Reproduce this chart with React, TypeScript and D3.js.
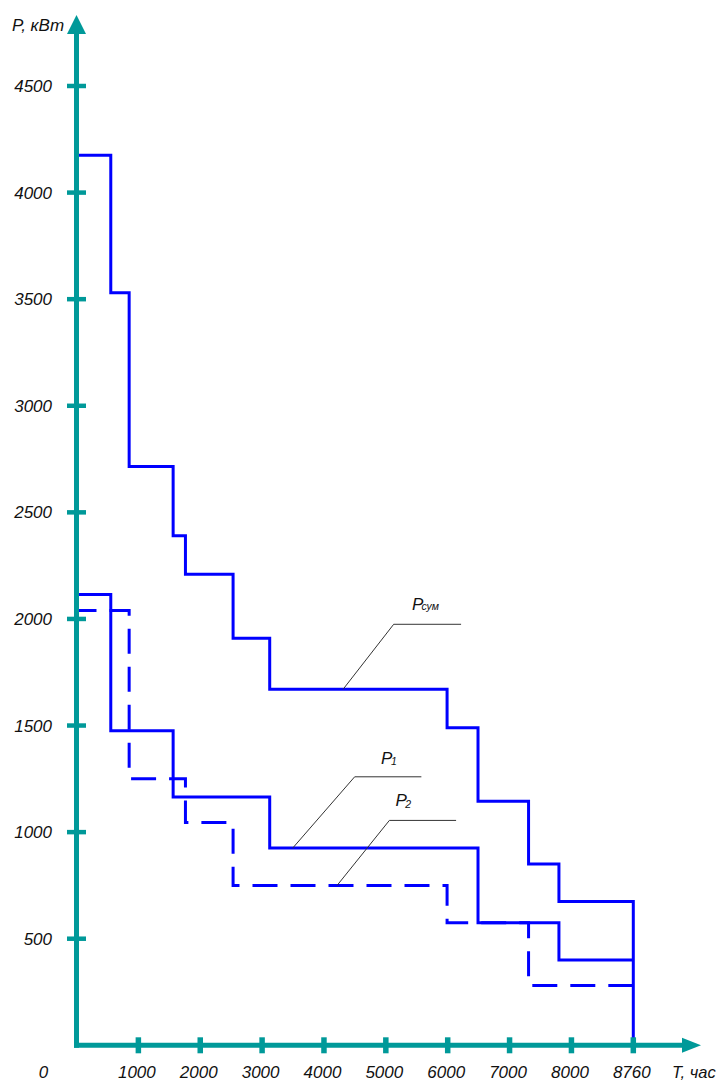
import * as d3 from 'd3';

// Load duration curves: step start hours and power (kW) for each step
const YEAR_HOURS = 8760;

const psumHours = [0, 554, 851, 1562, 1761, 2531, 3123, 5990, 6490, 7307, 7798];
const psumValues = [4175, 3530, 2715, 2390, 2210, 1910, 1670, 1490, 1145, 850, 675];

const p1Hours = [0, 554, 1562, 3123, 6490, 7798];
const p1Values = [2115, 1475, 1165, 925, 575, 400];

const p2Hours = [0, 851, 1761, 2531, 5990, 7307];
const p2Values = [2040, 1250, 1045, 750, 575, 280];

const yTicks = [500, 1000, 1500, 2000, 2500, 3000, 3500, 4000, 4500];
const xTicks = [1000, 2000, 3000, 4000, 5000, 6000, 7000, 8000, 8760];

const W = 720;
const H = 1082;
const AXIS = '#009999';
const LINE = '#0000ff';
const FONT = '"Liberation Sans", Arial, sans-serif';

// x axis: 8760 sits one tick step after 8000, like on the original drawing
const x0 = 76.5;
const step = (633.3 - x0) / 9;
const x = d3.scaleLinear()
  .domain([0, 8000, YEAR_HOURS])
  .range([x0, x0 + 8 * step, x0 + 9 * step]);

const y = d3.scaleLinear().domain([0, 4500]).range([1045.3, 86]);

const stepLine = d3.line<[number, number]>()
  .x(d => x(d[0]))
  .y(d => y(d[1]))
  .curve(d3.curveStepAfter);

const toPoints = (hours: number[], values: number[], dropToZero = false) => {
  const pts: [number, number][] = hours.map((h, i) => [h, values[i]]);
  pts.push([YEAR_HOURS, values[values.length - 1]]);
  if (dropToZero) pts.push([YEAR_HOURS, 0]);
  return pts;
};

const valueAt = (hours: number[], values: number[], h: number) => {
  const i = d3.bisectRight(hours, h) - 1;
  return values[Math.max(0, i)];
};

// leader-line annotations
const notes = [
  { name: 'P', sub: 'сум', hours: psumHours, values: psumValues, at: 4309, dx: 50.6, dy: -65, len: 67.4, tx: 18.4, ty: -14, subDy: 0, subDx: -2 },
  { name: 'P', sub: '1', hours: p1Hours, values: p1Values, at: 3494, dx: 62, dy: -71.3, len: 66.7, tx: 26.4, ty: -12.5, subDy: 1, subDx: -1.5 },
  { name: 'P', sub: '2', hours: p2Hours, values: p2Values, at: 4212, dx: 52.3, dy: -65, len: 66.7, tx: 6, ty: -14, subDy: 1.5, subDx: -1.5 },
];

export default function App() {
  const y0 = y(0);
  const psum = stepLine(toPoints(psumHours, psumValues, true)) || '';
  const p1 = stepLine(toPoints(p1Hours, p1Values)) || '';
  const p2 = stepLine(toPoints(p2Hours, p2Values)) || '';

  return (
    <svg
      width={W}
      height={H}
      style={{ position: 'absolute', left: 0, top: 0, background: '#fff' }}
      fontFamily={FONT}
      fontStyle="italic"
    >
      {/* series */}
      <path d={psum} fill="none" stroke={LINE} strokeWidth={3} />
      <path d={p1} fill="none" stroke={LINE} strokeWidth={3} />
      <path d={p2} fill="none" stroke={LINE} strokeWidth={3} strokeDasharray="25 13" strokeDashoffset={5} />

      {/* annotations */}
      {notes.map((n, i) => {
        const ax = x(n.at);
        const ay = y(valueAt(n.hours, n.values, n.at));
        const ex = ax + n.dx;
        const ey = ay + n.dy;
        return (
          <g key={i}>
            <polyline
              points={`${ax},${ay} ${ex},${ey} ${ex + n.len},${ey}`}
              fill="none"
              stroke="#333"
              strokeWidth={1}
            />
            <text x={ex + n.tx} y={ey + n.ty} fontSize={17} fill="#111">
              {n.name}
              <tspan fontSize={10.5} dx={n.subDx} dy={n.subDy}>{n.sub}</tspan>
            </text>
          </g>
        );
      })}

      {/* axes */}
      <line x1={x0} y1={y0 + 2.5} x2={x0} y2={33} stroke={AXIS} strokeWidth={5} />
      <polygon points={`${x0 - 9.5},${34} ${x0},${15} ${x0 + 9.5},${34}`} fill={AXIS} />
      <line x1={x0 - 2.5} y1={y0} x2={683} y2={y0} stroke={AXIS} strokeWidth={5} />
      <polygon points={`${682},${y0 - 7.5} ${701},${y0} ${682},${y0 + 7.5}`} fill={AXIS} />

      {yTicks.map(t => (
        <g key={t}>
          <line x1={x0 - 9.5} x2={x0 + 9.5} y1={y(t)} y2={y(t)} stroke={AXIS} strokeWidth={4.5} />
          <text x={52} y={y(t) + 6} textAnchor="end" fontSize={17} fill="#111">{t}</text>
        </g>
      ))}
      {xTicks.map(t => (
        <g key={t}>
          <line x1={x(t)} x2={x(t)} y1={y0 - 8} y2={y0 + 8} stroke={AXIS} strokeWidth={5.5} />
          <text x={x(t) - 1.5} y={1077.5} textAnchor="middle" fontSize={17} fill="#111">{t}</text>
        </g>
      ))}
      <text x={43.5} y={1077.5} textAnchor="middle" fontSize={17} fill="#111">0</text>

      <text x={12} y={31} fontSize={17} fill="#111">P, кВт</text>
      <text x={672} y={1077.5} fontSize={16.5} fill="#111">T, час</text>
    </svg>
  );
}
